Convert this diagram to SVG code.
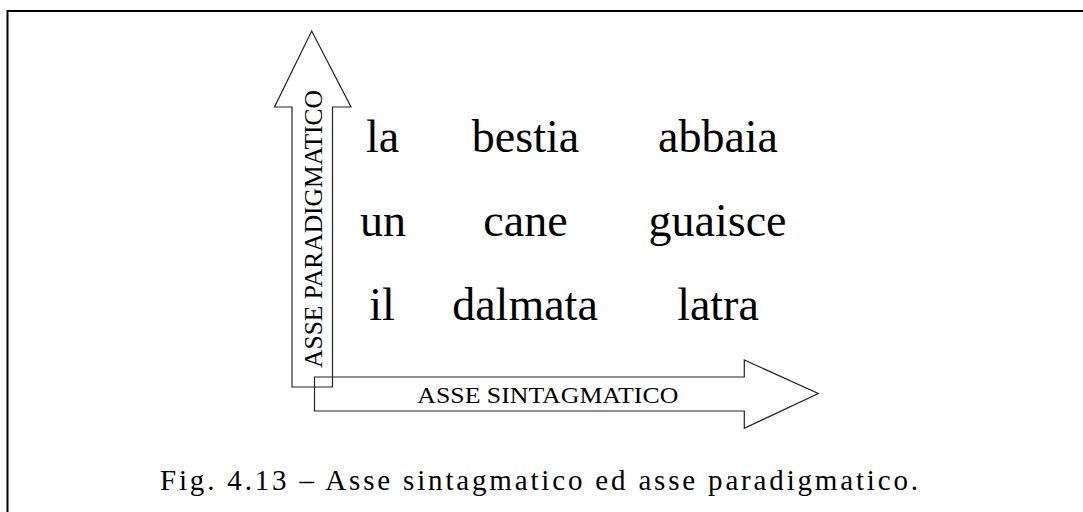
<svg xmlns="http://www.w3.org/2000/svg" width="1083" height="512" viewBox="0 0 1083 512">
<style>
.frame{fill:none;stroke:#000;stroke-width:2}
.arrow{fill:none;stroke:#222;stroke-width:1.2;stroke-linejoin:miter}
.word{font-family:"Liberation Serif","Times New Roman",serif;font-size:46px;fill:#000;text-anchor:middle}
.axis{font-family:"Liberation Serif","Times New Roman",serif;fill:#000;text-anchor:middle}
.cap{font-family:"Liberation Serif","Times New Roman",serif;font-size:29px;fill:#000;text-anchor:middle}
</style>
<rect width="1083" height="512" fill="#fff"/>
<path class="frame" d="M7.5,512 V11 H1083"/>
<g id="connectors">
  <g id="asse-paradigmatico">
    <polygon class="arrow" points="292,387 292,107 274.5,107 311.7,31 351,107 332.5,107 332.5,387"/>
    <text class="axis" font-size="25" transform="translate(322,229) rotate(-90)" textLength="278" lengthAdjust="spacingAndGlyphs">ASSE PARADIGMATICO</text>
  </g>
  <g id="asse-sintagmatico">
    <polygon class="arrow" points="314.5,411 314.5,377 744.3,377 744.3,360 818.3,393.5 744.3,428.3 744.3,411"/>
    <text class="axis" font-size="23" x="547.8" y="403.3" textLength="261" lengthAdjust="spacingAndGlyphs">ASSE SINTAGMATICO</text>
  </g>
</g>
<g id="row1">
  <text id="la" class="word" x="382.5" y="151.7">la</text>
  <text id="bestia" class="word" x="525.5" y="151.7">bestia</text>
  <text id="abbaia" class="word" x="718" y="151.7">abbaia</text>
</g>
<g id="row2">
  <text id="un" class="word" x="383" y="236">un</text>
  <text id="cane" class="word" x="525.5" y="236">cane</text>
  <text id="guaisce" class="word" x="717.5" y="236">guaisce</text>
</g>
<g id="row3">
  <text id="il" class="word" x="382" y="320">il</text>
  <text id="dalmata" class="word" x="525" y="320">dalmata</text>
  <text id="latra" class="word" x="718" y="320">latra</text>
</g>
<g id="caption">
  <text class="cap" x="539" y="490" textLength="758" lengthAdjust="spacing">Fig. 4.13 – Asse sintagmatico ed asse paradigmatico.</text>
</g>
</svg>
